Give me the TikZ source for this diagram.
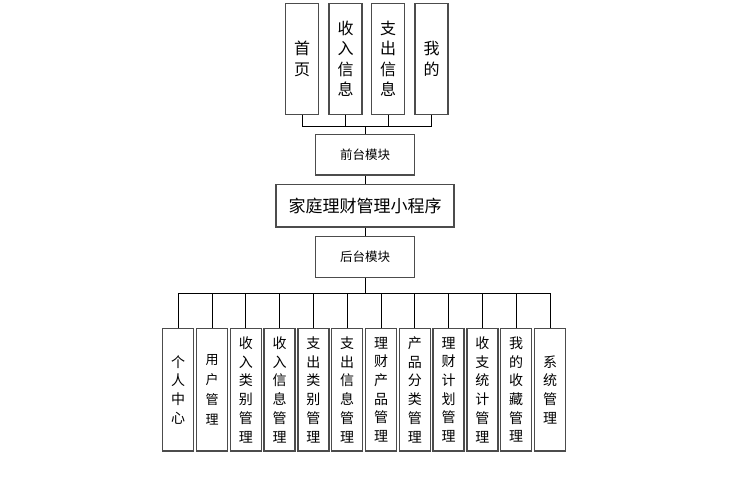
\documentclass[tikz,border=0pt]{standalone}
\usepackage{fontspec}
\newfontfamily\cjk{Noto Sans CJK SC}
\usepackage{tikz}
\usetikzlibrary{positioning,calc}

\begin{document}
\begin{tikzpicture}[x=1pt, y=-1pt,
  box/.style={draw=black!70, line width=1.3pt, fill=white, inner sep=0pt, align=center},
  topbox/.style={box, minimum width=33pt, minimum height=111pt, font=\cjk\fontsize{16}{20.5}\selectfont},
  midbox/.style={box, minimum width=98.6pt, minimum height=40.7pt, font=\cjk\fontsize{12.5}{15}\selectfont},
  subbox/.style={box, minimum width=31pt, minimum height=122.7pt, font=\cjk\fontsize{14}{18.7}\selectfont},
  wire/.style={draw=black, line width=1pt}]
  \useasboundingbox (0,0) rectangle (732,500);

  % Front-end pages
  \node[topbox] (home) at (302, 58.7) {首\\页};
  \node[topbox] (income) at (345.5, 58.7) {收\\入\\信\\息};
  \node[topbox] (expense) at (388, 58.7) {支\\出\\信\\息};
  \node[topbox] (mine) at (431.5, 58.7) {我\\的};

  % Modules and root
  \node[midbox] (front) at (365, 154.7) {前台模块};
  \node[box, minimum width=178pt, minimum height=42.3pt, font=\cjk\fontsize{17}{20}\selectfont] (app) at (365, 206) {家庭理财管理小程序};
  \node[midbox] (back) at (365, 257) {后台模块};

  % Back-end functions
  \node[subbox] (sub1) at (178.2, 389.7) {个\\人\\中\\心};
  \node[subbox, font=\cjk\fontsize{13}{20}\selectfont] (sub2) at (212, 389.7) {用\\户\\管\\理};
  \node[subbox] (sub3) at (245.8, 389.7) {收\\入\\类\\别\\管\\理};
  \node[subbox] (sub4) at (279.6, 389.7) {收\\入\\信\\息\\管\\理};
  \node[subbox] (sub5) at (313.4, 389.7) {支\\出\\类\\别\\管\\理};
  \node[subbox] (sub6) at (347.2, 389.7) {支\\出\\信\\息\\管\\理};
  \node[subbox] (sub7) at (381, 389.7) {理\\财\\产\\品\\管\\理};
  \node[subbox] (sub8) at (414.8, 389.7) {产\\品\\分\\类\\管\\理};
  \node[subbox] (sub9) at (448.6, 389.7) {理\\财\\计\\划\\管\\理};
  \node[subbox] (sub10) at (482.4, 389.7) {收\\支\\统\\计\\管\\理};
  \node[subbox] (sub11) at (516.2, 389.7) {我\\的\\收\\藏\\管\\理};
  \node[subbox] (sub12) at (550, 389.7) {系\\统\\管\\理};

  % Upper bus
  \coordinate (ftop) at ($(front.north)+(0,-7)$);
  \foreach \n in {home,income,expense,mine}
    \draw[wire] (\n.south) -- (\n.south |- ftop);
  \draw[wire] (home.south |- ftop) -- (mine.south |- ftop);
  \draw[wire] (ftop) -- (front.north);

  % Trunk
  \draw[wire] (front.south) -- (app.north);
  \draw[wire] (app.south) -- (back.north);

  % Lower bus
  \coordinate (bbus) at ($(back.south)+(0,15.4)$);
  \draw[wire] (back.south) -- (bbus);
  \draw[wire] (sub1.north |- bbus) -- (sub12.north |- bbus);
  \foreach \i in {1,...,12}
    \draw[wire] (sub\i.north |- bbus) -- (sub\i.north);
\end{tikzpicture}
\end{document}
